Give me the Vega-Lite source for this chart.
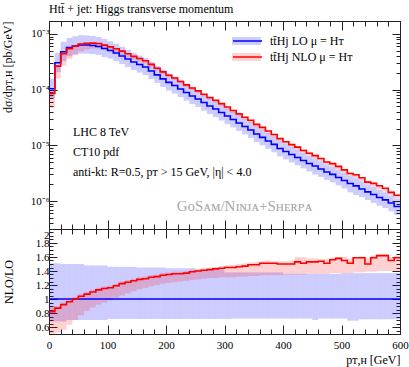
{
  "$schema": "https://vega.github.io/schema/vega-lite/v6.json",
  "padding": {"left": 0, "top": 2, "right": 1, "bottom": 1},
  "background": "white",
  "spacing": 0,
  "bounds": "flush",
  "datasets": {
    "h": [
      {"x0":0,"x1":10,"lo":1.04e-4,"lo_dn":7.07e-5,"lo_up":1.57e-4,"nlo":8.53e-5,"nlo_dn":4.68e-5,"nlo_up":9.36e-5,"r":0.82,"r_dn":0.45,"r_up":0.90,"lr_dn":0.68,"lr_up":1.51},
      {"x0":10,"x1":20,"lo":3.05e-4,"lo_dn":2.07e-4,"lo_up":4.61e-4,"nlo":2.65e-4,"nlo_dn":1.59e-4,"nlo_up":2.75e-4,"r":0.87,"r_dn":0.52,"r_up":0.90,"lr_dn":0.68,"lr_up":1.51},
      {"x0":20,"x1":30,"lo":4.81e-4,"lo_dn":3.27e-4,"lo_up":7.22e-4,"nlo":4.43e-4,"nlo_dn":2.69e-4,"nlo_up":4.57e-4,"r":0.92,"r_dn":0.56,"r_up":0.95,"lr_dn":0.68,"lr_up":1.50},
      {"x0":30,"x1":40,"lo":5.68e-4,"lo_dn":3.98e-4,"lo_up":8.52e-4,"nlo":5.45e-4,"nlo_dn":3.58e-4,"nlo_up":5.62e-4,"r":0.96,"r_dn":0.63,"r_up":0.99,"lr_dn":0.70,"lr_up":1.50},
      {"x0":40,"x1":50,"lo":6.09e-4,"lo_dn":4.26e-4,"lo_up":9.14e-4,"nlo":6.09e-4,"nlo_dn":4.26e-4,"nlo_up":6.27e-4,"r":1.00,"r_dn":0.70,"r_up":1.03,"lr_dn":0.70,"lr_up":1.50},
      {"x0":50,"x1":60,"lo":6.35e-4,"lo_dn":4.45e-4,"lo_up":9.53e-4,"nlo":6.60e-4,"nlo_dn":4.89e-4,"nlo_up":6.79e-4,"r":1.04,"r_dn":0.77,"r_up":1.07,"lr_dn":0.70,"lr_up":1.50},
      {"x0":60,"x1":70,"lo":6.35e-4,"lo_dn":4.45e-4,"lo_up":9.40e-4,"nlo":6.79e-4,"nlo_dn":5.27e-4,"nlo_up":6.99e-4,"r":1.07,"r_dn":0.83,"r_up":1.10,"lr_dn":0.70,"lr_up":1.48},
      {"x0":70,"x1":80,"lo":6.22e-4,"lo_dn":4.35e-4,"lo_up":9.21e-4,"nlo":6.84e-4,"nlo_dn":5.47e-4,"nlo_up":7.03e-4,"r":1.10,"r_dn":0.88,"r_up":1.13,"lr_dn":0.70,"lr_up":1.48},
      {"x0":80,"x1":90,"lo":5.97e-4,"lo_dn":4.18e-4,"lo_up":8.84e-4,"nlo":6.75e-4,"nlo_dn":5.49e-4,"nlo_up":6.93e-4,"r":1.13,"r_dn":0.92,"r_up":1.16,"lr_dn":0.70,"lr_up":1.48},
      {"x0":90,"x1":100,"lo":5.49e-4,"lo_dn":3.84e-4,"lo_up":8.13e-4,"nlo":6.31e-4,"nlo_dn":5.22e-4,"nlo_up":6.48e-4,"r":1.15,"r_dn":0.95,"r_up":1.18,"lr_dn":0.70,"lr_up":1.48},
      {"x0":100,"x1":110,"lo":5.06e-4,"lo_dn":3.62e-4,"lo_up":7.39e-4,"nlo":5.87e-4,"nlo_dn":4.96e-4,"nlo_up":6.02e-4,"r":1.16,"r_dn":0.98,"r_up":1.19,"lr_dn":0.715,"lr_up":1.46},
      {"x0":110,"x1":120,"lo":4.56e-4,"lo_dn":3.26e-4,"lo_up":6.66e-4,"nlo":5.43e-4,"nlo_dn":4.65e-4,"nlo_up":5.56e-4,"r":1.19,"r_dn":1.02,"r_up":1.22,"lr_dn":0.715,"lr_up":1.46},
      {"x0":120,"x1":130,"lo":4.03e-4,"lo_dn":2.88e-4,"lo_up":5.88e-4,"nlo":4.92e-4,"nlo_dn":4.23e-4,"nlo_up":5.04e-4,"r":1.22,"r_dn":1.05,"r_up":1.25,"lr_dn":0.715,"lr_up":1.46},
      {"x0":130,"x1":140,"lo":3.56e-4,"lo_dn":2.55e-4,"lo_up":5.20e-4,"nlo":4.41e-4,"nlo_dn":3.84e-4,"nlo_up":4.52e-4,"r":1.24,"r_dn":1.08,"r_up":1.27,"lr_dn":0.715,"lr_up":1.46},
      {"x0":140,"x1":150,"lo":3.14e-4,"lo_dn":2.25e-4,"lo_up":4.58e-4,"nlo":3.96e-4,"nlo_dn":3.49e-4,"nlo_up":4.05e-4,"r":1.26,"r_dn":1.11,"r_up":1.29,"lr_dn":0.715,"lr_up":1.46},
      {"x0":150,"x1":160,"lo":2.83e-4,"lo_dn":2.02e-4,"lo_up":4.10e-4,"nlo":3.62e-4,"nlo_dn":3.23e-4,"nlo_up":3.71e-4,"r":1.28,"r_dn":1.14,"r_up":1.31,"lr_dn":0.715,"lr_up":1.45},
      {"x0":160,"x1":170,"lo":2.56e-4,"lo_dn":1.83e-4,"lo_up":3.71e-4,"nlo":3.30e-4,"nlo_dn":2.97e-4,"nlo_up":3.38e-4,"r":1.29,"r_dn":1.16,"r_up":1.32,"lr_dn":0.715,"lr_up":1.45},
      {"x0":170,"x1":180,"lo":2.17e-4,"lo_dn":1.55e-4,"lo_up":3.15e-4,"nlo":2.84e-4,"nlo_dn":2.56e-4,"nlo_up":2.91e-4,"r":1.31,"r_dn":1.18,"r_up":1.34,"lr_dn":0.715,"lr_up":1.45},
      {"x0":180,"x1":190,"lo":1.84e-4,"lo_dn":1.32e-4,"lo_up":2.67e-4,"nlo":2.43e-4,"nlo_dn":2.21e-4,"nlo_up":2.48e-4,"r":1.32,"r_dn":1.20,"r_up":1.35,"lr_dn":0.715,"lr_up":1.45},
      {"x0":190,"x1":200,"lo":1.56e-4,"lo_dn":1.12e-4,"lo_up":2.26e-4,"nlo":2.09e-4,"nlo_dn":1.90e-4,"nlo_up":2.14e-4,"r":1.34,"r_dn":1.22,"r_up":1.37,"lr_dn":0.715,"lr_up":1.45},
      {"x0":200,"x1":210,"lo":1.35e-4,"lo_dn":9.65e-5,"lo_up":1.94e-4,"nlo":1.82e-4,"nlo_dn":1.66e-4,"nlo_up":1.86e-4,"r":1.35,"r_dn":1.23,"r_up":1.38,"lr_dn":0.715,"lr_up":1.44},
      {"x0":210,"x1":220,"lo":1.19e-4,"lo_dn":8.51e-5,"lo_up":1.71e-4,"nlo":1.62e-4,"nlo_dn":1.48e-4,"nlo_up":1.65e-4,"r":1.36,"r_dn":1.24,"r_up":1.39,"lr_dn":0.715,"lr_up":1.44},
      {"x0":220,"x1":230,"lo":1.03e-4,"lo_dn":7.36e-5,"lo_up":1.48e-4,"nlo":1.40e-4,"nlo_dn":1.29e-4,"nlo_up":1.43e-4,"r":1.36,"r_dn":1.25,"r_up":1.39,"lr_dn":0.715,"lr_up":1.44},
      {"x0":230,"x1":240,"lo":8.91e-5,"lo_dn":6.37e-5,"lo_up":1.28e-4,"nlo":1.22e-4,"nlo_dn":1.12e-4,"nlo_up":1.25e-4,"r":1.37,"r_dn":1.26,"r_up":1.40,"lr_dn":0.715,"lr_up":1.44},
      {"x0":240,"x1":250,"lo":7.71e-5,"lo_dn":5.51e-5,"lo_up":1.11e-4,"nlo":1.07e-4,"nlo_dn":9.79e-5,"nlo_up":1.09e-4,"r":1.39,"r_dn":1.27,"r_up":1.42,"lr_dn":0.715,"lr_up":1.44},
      {"x0":250,"x1":260,"lo":6.81e-5,"lo_dn":4.87e-5,"lo_up":9.67e-5,"nlo":9.53e-5,"nlo_dn":8.72e-5,"nlo_up":9.74e-5,"r":1.40,"r_dn":1.28,"r_up":1.43,"lr_dn":0.715,"lr_up":1.42},
      {"x0":260,"x1":270,"lo":5.89e-5,"lo_dn":4.21e-5,"lo_up":8.36e-5,"nlo":8.30e-5,"nlo_dn":7.60e-5,"nlo_up":8.48e-5,"r":1.41,"r_dn":1.29,"r_up":1.44,"lr_dn":0.715,"lr_up":1.42},
      {"x0":270,"x1":280,"lo":5.09e-5,"lo_dn":3.64e-5,"lo_up":7.23e-5,"nlo":7.23e-5,"nlo_dn":6.62e-5,"nlo_up":7.38e-5,"r":1.42,"r_dn":1.30,"r_up":1.45,"lr_dn":0.715,"lr_up":1.42},
      {"x0":280,"x1":290,"lo":4.51e-5,"lo_dn":3.22e-5,"lo_up":6.40e-5,"nlo":6.45e-5,"nlo_dn":5.86e-5,"nlo_up":6.58e-5,"r":1.43,"r_dn":1.30,"r_up":1.46,"lr_dn":0.715,"lr_up":1.42},
      {"x0":290,"x1":300,"lo":3.90e-5,"lo_dn":2.79e-5,"lo_up":5.54e-5,"nlo":5.62e-5,"nlo_dn":5.11e-5,"nlo_up":5.73e-5,"r":1.44,"r_dn":1.31,"r_up":1.47,"lr_dn":0.715,"lr_up":1.42},
      {"x0":300,"x1":310,"lo":3.37e-5,"lo_dn":2.41e-5,"lo_up":4.65e-5,"nlo":4.89e-5,"nlo_dn":4.41e-5,"nlo_up":4.99e-5,"r":1.45,"r_dn":1.31,"r_up":1.48,"lr_dn":0.715,"lr_up":1.38},
      {"x0":310,"x1":320,"lo":2.92e-5,"lo_dn":2.10e-5,"lo_up":4.03e-5,"nlo":4.23e-5,"nlo_dn":3.83e-5,"nlo_up":4.35e-5,"r":1.45,"r_dn":1.31,"r_up":1.49,"lr_dn":0.72,"lr_up":1.38},
      {"x0":320,"x1":330,"lo":2.52e-5,"lo_dn":1.81e-5,"lo_up":3.48e-5,"nlo":3.68e-5,"nlo_dn":3.33e-5,"nlo_up":3.78e-5,"r":1.46,"r_dn":1.32,"r_up":1.50,"lr_dn":0.72,"lr_up":1.38},
      {"x0":330,"x1":340,"lo":2.18e-5,"lo_dn":1.57e-5,"lo_up":3.01e-5,"nlo":3.20e-5,"nlo_dn":2.88e-5,"nlo_up":3.29e-5,"r":1.47,"r_dn":1.32,"r_up":1.51,"lr_dn":0.72,"lr_up":1.38},
      {"x0":340,"x1":350,"lo":1.89e-5,"lo_dn":1.36e-5,"lo_up":2.61e-5,"nlo":2.82e-5,"nlo_dn":2.51e-5,"nlo_up":2.87e-5,"r":1.49,"r_dn":1.33,"r_up":1.52,"lr_dn":0.72,"lr_up":1.38},
      {"x0":350,"x1":360,"lo":1.60e-5,"lo_dn":1.15e-5,"lo_up":2.21e-5,"nlo":2.38e-5,"nlo_dn":2.13e-5,"nlo_up":2.45e-5,"r":1.49,"r_dn":1.33,"r_up":1.53,"lr_dn":0.72,"lr_up":1.38},
      {"x0":360,"x1":370,"lo":1.39e-5,"lo_dn":1.00e-5,"lo_up":1.92e-5,"nlo":2.10e-5,"nlo_dn":1.86e-5,"nlo_up":2.14e-5,"r":1.51,"r_dn":1.34,"r_up":1.54,"lr_dn":0.72,"lr_up":1.38},
      {"x0":370,"x1":380,"lo":1.20e-5,"lo_dn":8.64e-6,"lo_up":1.66e-5,"nlo":1.81e-5,"nlo_dn":1.61e-5,"nlo_up":1.86e-5,"r":1.51,"r_dn":1.34,"r_up":1.55,"lr_dn":0.72,"lr_up":1.38},
      {"x0":380,"x1":390,"lo":1.04e-5,"lo_dn":7.49e-6,"lo_up":1.44e-5,"nlo":1.57e-5,"nlo_dn":1.39e-5,"nlo_up":1.60e-5,"r":1.51,"r_dn":1.34,"r_up":1.54,"lr_dn":0.72,"lr_up":1.38},
      {"x0":390,"x1":400,"lo":8.79e-6,"lo_dn":6.33e-6,"lo_up":1.21e-5,"nlo":1.32e-5,"nlo_dn":1.18e-5,"nlo_up":1.35e-5,"r":1.50,"r_dn":1.34,"r_up":1.54,"lr_dn":0.72,"lr_up":1.38},
      {"x0":400,"x1":410,"lo":7.76e-6,"lo_dn":5.59e-6,"lo_up":1.06e-5,"nlo":1.16e-5,"nlo_dn":1.05e-5,"nlo_up":1.20e-5,"r":1.50,"r_dn":1.35,"r_up":1.54,"lr_dn":0.72,"lr_up":1.36},
      {"x0":410,"x1":420,"lo":6.87e-6,"lo_dn":4.95e-6,"lo_up":9.34e-6,"nlo":1.03e-5,"nlo_dn":9.27e-6,"nlo_up":1.06e-5,"r":1.50,"r_dn":1.35,"r_up":1.55,"lr_dn":0.72,"lr_up":1.36},
      {"x0":420,"x1":430,"lo":6.07e-6,"lo_dn":4.37e-6,"lo_up":8.26e-6,"nlo":9.29e-6,"nlo_dn":8.19e-6,"nlo_up":9.71e-6,"r":1.53,"r_dn":1.35,"r_up":1.60,"lr_dn":0.72,"lr_up":1.36},
      {"x0":430,"x1":440,"lo":5.36e-6,"lo_dn":3.86e-6,"lo_up":7.29e-6,"nlo":8.09e-6,"nlo_dn":7.24e-6,"nlo_up":8.58e-6,"r":1.51,"r_dn":1.35,"r_up":1.60,"lr_dn":0.72,"lr_up":1.36},
      {"x0":440,"x1":450,"lo":4.73e-6,"lo_dn":3.41e-6,"lo_up":6.43e-6,"nlo":7.24e-6,"nlo_dn":6.43e-6,"nlo_up":7.47e-6,"r":1.53,"r_dn":1.36,"r_up":1.58,"lr_dn":0.72,"lr_up":1.36},
      {"x0":450,"x1":460,"lo":4.27e-6,"lo_dn":2.99e-6,"lo_up":5.81e-6,"nlo":6.53e-6,"nlo_dn":5.81e-6,"nlo_up":6.75e-6,"r":1.53,"r_dn":1.36,"r_up":1.58,"lr_dn":0.70,"lr_up":1.36},
      {"x0":460,"x1":470,"lo":3.77e-6,"lo_dn":2.71e-6,"lo_up":5.13e-6,"nlo":5.81e-6,"nlo_dn":5.13e-6,"nlo_up":5.92e-6,"r":1.54,"r_dn":1.36,"r_up":1.57,"lr_dn":0.72,"lr_up":1.36},
      {"x0":470,"x1":480,"lo":3.33e-6,"lo_dn":2.40e-6,"lo_up":4.53e-6,"nlo":5.03e-6,"nlo_dn":4.53e-6,"nlo_up":5.23e-6,"r":1.51,"r_dn":1.36,"r_up":1.57,"lr_dn":0.72,"lr_up":1.36},
      {"x0":480,"x1":490,"lo":3.01e-6,"lo_dn":2.17e-6,"lo_up":4.09e-6,"nlo":4.70e-6,"nlo_dn":4.12e-6,"nlo_up":4.79e-6,"r":1.56,"r_dn":1.37,"r_up":1.59,"lr_dn":0.72,"lr_up":1.36},
      {"x0":490,"x1":500,"lo":2.65e-6,"lo_dn":1.91e-6,"lo_up":3.60e-6,"nlo":4.19e-6,"nlo_dn":3.63e-6,"nlo_up":4.24e-6,"r":1.58,"r_dn":1.37,"r_up":1.60,"lr_dn":0.72,"lr_up":1.36},
      {"x0":500,"x1":510,"lo":2.34e-6,"lo_dn":1.68e-6,"lo_up":3.21e-6,"nlo":3.63e-6,"nlo_dn":3.21e-6,"nlo_up":3.74e-6,"r":1.55,"r_dn":1.37,"r_up":1.60,"lr_dn":0.72,"lr_up":1.37},
      {"x0":510,"x1":520,"lo":2.07e-6,"lo_dn":1.43e-6,"lo_up":2.84e-6,"nlo":3.13e-6,"nlo_dn":2.84e-6,"nlo_up":3.27e-6,"r":1.51,"r_dn":1.37,"r_up":1.58,"lr_dn":0.69,"lr_up":1.37},
      {"x0":520,"x1":530,"lo":1.87e-6,"lo_dn":1.29e-6,"lo_up":2.56e-6,"nlo":2.97e-6,"nlo_dn":2.58e-6,"nlo_up":2.99e-6,"r":1.59,"r_dn":1.38,"r_up":1.60,"lr_dn":0.69,"lr_up":1.37},
      {"x0":530,"x1":540,"lo":1.65e-6,"lo_dn":1.17e-6,"lo_up":2.26e-6,"nlo":2.62e-6,"nlo_dn":2.28e-6,"nlo_up":2.66e-6,"r":1.59,"r_dn":1.38,"r_up":1.61,"lr_dn":0.71,"lr_up":1.37},
      {"x0":540,"x1":550,"lo":1.46e-6,"lo_dn":1.04e-6,"lo_up":2.00e-6,"nlo":2.19e-6,"nlo_dn":2.03e-6,"nlo_up":2.32e-6,"r":1.50,"r_dn":1.39,"r_up":1.59,"lr_dn":0.71,"lr_up":1.37},
      {"x0":550,"x1":560,"lo":1.31e-6,"lo_dn":9.30e-7,"lo_up":1.79e-6,"nlo":2.08e-6,"nlo_dn":1.82e-6,"nlo_up":2.12e-6,"r":1.59,"r_dn":1.39,"r_up":1.62,"lr_dn":0.71,"lr_up":1.37},
      {"x0":560,"x1":570,"lo":1.16e-6,"lo_dn":8.24e-7,"lo_up":1.59e-6,"nlo":1.88e-6,"nlo_dn":1.62e-6,"nlo_up":1.90e-6,"r":1.62,"r_dn":1.40,"r_up":1.64,"lr_dn":0.71,"lr_up":1.37},
      {"x0":570,"x1":580,"lo":1.05e-6,"lo_dn":7.46e-7,"lo_up":1.44e-6,"nlo":1.70e-6,"nlo_dn":1.47e-6,"nlo_up":1.72e-6,"r":1.62,"r_dn":1.40,"r_up":1.64,"lr_dn":0.71,"lr_up":1.37},
      {"x0":580,"x1":590,"lo":9.25e-7,"lo_dn":6.57e-7,"lo_up":1.27e-6,"nlo":1.43e-6,"nlo_dn":1.30e-6,"nlo_up":1.48e-6,"r":1.55,"r_dn":1.40,"r_up":1.60,"lr_dn":0.71,"lr_up":1.37},
      {"x0":590,"x1":600,"lo":8.00e-7,"lo_dn":5.68e-7,"lo_up":1.10e-6,"nlo":1.27e-6,"nlo_dn":1.12e-6,"nlo_up":1.30e-6,"r":1.59,"r_dn":1.40,"r_up":1.62,"lr_dn":0.71,"lr_up":1.37},
      {"x0":600,"lo":8.00e-7,"nlo":1.27e-6,"r":1.59}
    ]
  },
  "vconcat": [
    {
      "width": 351,
      "height": 208,
      "title": {"text": "Htt̄ + jet: Higgs transverse momentum", "anchor": "start", "frame": "group", "offset": 5},
      "data": {"name": "h"},
      "layer": [
        {
          "transform": [{"filter": "isValid(datum.x1)"}],
          "mark": {"type": "rect", "clip": true},
          "encoding": {
            "x": {"field": "x0", "type": "quantitative", "scale": {"domain": [0, 600], "nice": false, "zero": false},
              "axis": {"orient": "bottom", "values": [0,20,40,60,80,100,120,140,160,180,200,220,240,260,280,300,320,340,360,380,400,420,440,460,480,500,520,540,560,580,600], "labels": false, "title": null, "minExtent": 0, "maxExtent": 0,
                "tickSize": {"condition": {"test": "datum.value % 100 == 0", "value": -9}, "value": -5}}},
            "x2": {"field": "x1"},
            "y": {"field": "lo_dn", "type": "quantitative", "scale": {"type": "log", "domain": [3.15e-7, 1.71e-3], "nice": false},
              "axis": {"orient": "left", "values": [4e-7,5e-7,6e-7,7e-7,8e-7,9e-7,1e-6,2e-6,3e-6,4e-6,5e-6,6e-6,7e-6,8e-6,9e-6,1e-5,2e-5,3e-5,4e-5,5e-5,6e-5,7e-5,8e-5,9e-5,1e-4,2e-4,3e-4,4e-4,5e-4,6e-4,7e-4,8e-4,9e-4,1e-3],
                "labelExpr": "datum.value == 0.001 ? '10⁻³' : datum.value == 0.0001 ? '10⁻⁴' : datum.value == 0.00001 ? '10⁻⁵' : datum.value == 0.000001 ? '10⁻⁶' : ''",
                "tickSize": {"condition": {"test": "indexof([0.000001,0.00001,0.0001,0.001], datum.value) >= 0", "value": -8}, "value": -4},
                "title": "dσ/dpᴛ,ʜ [pb/GeV]", "titleAnchor": "end", "minExtent": 22, "maxExtent": 22, "titlePadding": 13, "labelPadding": 8}},
            "y2": {"field": "lo_up"},
            "fill": {"datum": "LOb", "type": "nominal",
              "scale": {"domain": ["LOb", "NLOb"], "range": ["rgba(0,0,255,0.2)", "rgba(255,0,0,0.18)"]},
              "legend": {"orient": "none", "legendX": 183, "legendY": 12, "title": null, "symbolType": "M-1,-0.27L1,-0.27L1,0.27L-1,0.27Z", "symbolSize": 841, "symbolStrokeWidth": 0, "clipHeight": 16, "rowPadding": 0, "labelOffset": 7, "padding": 0, "labelExpr": "''"}}
          }
        },
        {
          "transform": [{"filter": "isValid(datum.x1)"}],
          "mark": {"type": "rect", "clip": true},
          "encoding": {
            "x": {"field": "x0", "type": "quantitative",
              "axis": {"orient": "top", "values": [0,20,40,60,80,100,120,140,160,180,200,220,240,260,280,300,320,340,360,380,400,420,440,460,480,500,520,540,560,580,600], "labels": false, "title": null, "minExtent": 0, "maxExtent": 0,
                "tickSize": {"condition": {"test": "datum.value % 100 == 0", "value": -9}, "value": -5}}},
            "x2": {"field": "x1"},
            "y": {"field": "nlo_dn", "type": "quantitative",
              "axis": {"orient": "right", "values": [4e-7,5e-7,6e-7,7e-7,8e-7,9e-7,1e-6,2e-6,3e-6,4e-6,5e-6,6e-6,7e-6,8e-6,9e-6,1e-5,2e-5,3e-5,4e-5,5e-5,6e-5,7e-5,8e-5,9e-5,1e-4,2e-4,3e-4,4e-4,5e-4,6e-4,7e-4,8e-4,9e-4,1e-3],
                "labels": false, "title": null, "minExtent": 0, "maxExtent": 0,
                "tickSize": {"condition": {"test": "indexof([0.000001,0.00001,0.0001,0.001], datum.value) >= 0", "value": -8}, "value": -4}}},
            "y2": {"field": "nlo_up"},
            "fill": {"datum": "NLOb", "type": "nominal"}
          }
        },
        {
          "mark": {"type": "line", "interpolate": "step-after", "strokeWidth": 1.6, "clip": true},
          "encoding": {
            "x": {"field": "x0", "type": "quantitative", "axis": null},
            "y": {"field": "lo", "type": "quantitative", "axis": null},
            "color": {"datum": "tt̄Hj LO μ = Hᴛ", "type": "nominal",
              "scale": {"domain": ["tt̄Hj LO μ = Hᴛ", "tt̄Hj NLO μ = Hᴛ"], "range": ["#0000ff", "#ff0000"]},
              "legend": {"orient": "none", "legendX": 183, "legendY": 12, "title": null, "symbolType": "stroke", "symbolSize": 841, "symbolStrokeWidth": 1.6, "clipHeight": 16, "rowPadding": 0, "labelOffset": 7, "padding": 0, "labelFontSize": 12}}
          }
        },
        {
          "mark": {"type": "line", "interpolate": "step-after", "strokeWidth": 1.6, "clip": true},
          "encoding": {
            "x": {"field": "x0", "type": "quantitative", "axis": null},
            "y": {"field": "nlo", "type": "quantitative", "axis": null},
            "color": {"datum": "tt̄Hj NLO μ = Hᴛ", "type": "nominal"}
          }
        },
        {
          "data": {"values": [{"t": "LHC 8 TeV"}]},
          "mark": {"type": "text", "align": "left", "baseline": "middle", "fontSize": 12},
          "encoding": {
            "x": {"datum": 41, "type": "quantitative", "axis": null},
            "y": {"datum": 1.74e-5, "type": "quantitative", "axis": null},
            "text": {"field": "t"}
          }
        },
        {
          "data": {"values": [{"t": "CT10 pdf"}]},
          "mark": {"type": "text", "align": "left", "baseline": "middle", "fontSize": 12},
          "encoding": {
            "x": {"datum": 41, "type": "quantitative", "axis": null},
            "y": {"datum": 7.62e-6, "type": "quantitative", "axis": null},
            "text": {"field": "t"}
          }
        },
        {
          "data": {"values": [{"t": "anti-kt: R=0.5, pᴛ > 15 GeV, |η| < 4.0"}]},
          "mark": {"type": "text", "align": "left", "baseline": "middle", "fontSize": 12},
          "encoding": {
            "x": {"datum": 41, "type": "quantitative", "axis": null},
            "y": {"datum": 3.26e-6, "type": "quantitative", "axis": null},
            "text": {"field": "t"}
          }
        },
        {
          "data": {"values": [{"t": "GᴏSᴀᴍ/Nɪɴᴊᴀ+Sʜᴇʀᴘᴀ"}]},
          "mark": {"type": "text", "align": "right", "baseline": "middle", "fontSize": 15, "color": "#a8a8a8"},
          "encoding": {
            "x": {"datum": 450, "type": "quantitative", "axis": null},
            "y": {"datum": 8.17e-7, "type": "quantitative", "axis": null},
            "text": {"field": "t"}
          }
        }
      ],
      "resolve": {"axis": {"x": "independent", "y": "independent"}}
    },
    {
      "width": 351,
      "height": 105,
      "data": {"name": "h"},
      "layer": [
        {
          "transform": [{"filter": "isValid(datum.x1)"}],
          "mark": {"type": "rect", "clip": true, "fill": "rgba(0,0,255,0.2)"},
          "encoding": {
            "x": {"field": "x0", "type": "quantitative", "scale": {"domain": [0, 600], "nice": false, "zero": false},
              "axis": {"orient": "bottom", "values": [0,20,40,60,80,100,120,140,160,180,200,220,240,260,280,300,320,340,360,380,400,420,440,460,480,500,520,540,560,580,600],
                "labelExpr": "datum.value % 100 == 0 ? datum.label : ''", "format": "d", "labelPadding": 14,
                "title": "pᴛ,ʜ [GeV]", "titleAnchor": "end", "titlePadding": 0,
                "tickSize": {"condition": {"test": "datum.value % 100 == 0", "value": -9}, "value": -5}}},
            "x2": {"field": "x1"},
            "y": {"field": "lr_dn", "type": "quantitative", "scale": {"domain": [0.5, 2.0], "nice": false, "zero": false},
              "axis": {"orient": "left", "values": [0.5,0.55,0.6,0.65,0.7,0.75,0.8,0.85,0.9,0.95,1,1.05,1.1,1.15,1.2,1.25,1.3,1.35,1.4,1.45,1.5,1.55,1.6,1.65,1.7,1.75,1.8,1.85,1.9,1.95,2],
                "format": "~g",
                "labelExpr": "indexof([0.6,0.8,1,1.2,1.4,1.6,1.8,2], datum.value) >= 0 ? datum.label : ''",
                "labelBaseline": {"condition": {"test": "datum.value == 2", "value": "top"}, "value": "middle"},
                "tickSize": {"condition": {"test": "indexof([0.6,0.8,1,1.2,1.4,1.6,1.8,2], datum.value) >= 0", "value": -8}, "value": -4},
                "title": "NLO/LO", "minExtent": 22, "maxExtent": 22, "titlePadding": 12, "labelPadding": 8}},
            "y2": {"field": "lr_up"}
          }
        },
        {
          "transform": [{"filter": "isValid(datum.x1)"}],
          "mark": {"type": "rect", "clip": true, "fill": "rgba(255,0,0,0.18)"},
          "encoding": {
            "x": {"field": "x0", "type": "quantitative",
              "axis": {"orient": "top", "values": [0,20,40,60,80,100,120,140,160,180,200,220,240,260,280,300,320,340,360,380,400,420,440,460,480,500,520,540,560,580,600], "labels": false, "title": null, "minExtent": 0, "maxExtent": 0,
                "tickSize": {"condition": {"test": "datum.value % 100 == 0", "value": -9}, "value": -5}}},
            "x2": {"field": "x1"},
            "y": {"field": "r_dn", "type": "quantitative",
              "axis": {"orient": "right", "values": [0.5,0.55,0.6,0.65,0.7,0.75,0.8,0.85,0.9,0.95,1,1.05,1.1,1.15,1.2,1.25,1.3,1.35,1.4,1.45,1.5,1.55,1.6,1.65,1.7,1.75,1.8,1.85,1.9,1.95,2],
                "labels": false, "title": null, "minExtent": 0, "maxExtent": 0,
                "tickSize": {"condition": {"test": "indexof([0.6,0.8,1,1.2,1.4,1.6,1.8,2], datum.value) >= 0", "value": -8}, "value": -4}}},
            "y2": {"field": "r_up"}
          }
        },
        {
          "data": {"values": [{"ratio": 1}]},
          "mark": {"type": "rule", "color": "#0000ff", "strokeWidth": 1.3},
          "encoding": {
            "y": {"field": "ratio", "type": "quantitative", "axis": null}
          }
        },
        {
          "mark": {"type": "line", "interpolate": "step-after", "strokeWidth": 1.6, "color": "#ff0000", "clip": true},
          "encoding": {
            "x": {"field": "x0", "type": "quantitative", "axis": null},
            "y": {"field": "r", "type": "quantitative", "axis": null}
          }
        }
      ],
      "resolve": {"axis": {"x": "independent", "y": "independent"}}
    }
  ],
  "config": {
    "font": "Liberation Serif",
    "view": {"stroke": "#222", "strokeWidth": 1},
    "axis": {"domainColor": "#222", "tickColor": "#222", "labelColor": "#000", "labelFont": "Liberation Serif", "labelFontSize": 11, "titleFont": "Liberation Serif", "titleFontSize": 12, "titleFontWeight": "normal", "titleColor": "#000", "grid": false, "labelOverlap": false, "labelFlush": false, "tickWidth": 1, "domainWidth": 1},
    "legend": {"labelFont": "Liberation Serif", "labelFontSize": 12, "labelColor": "#000"},
    "title": {"font": "Liberation Serif", "fontSize": 12, "fontWeight": "normal", "color": "#000"},
    "text": {"font": "Liberation Serif"}
  }
}
